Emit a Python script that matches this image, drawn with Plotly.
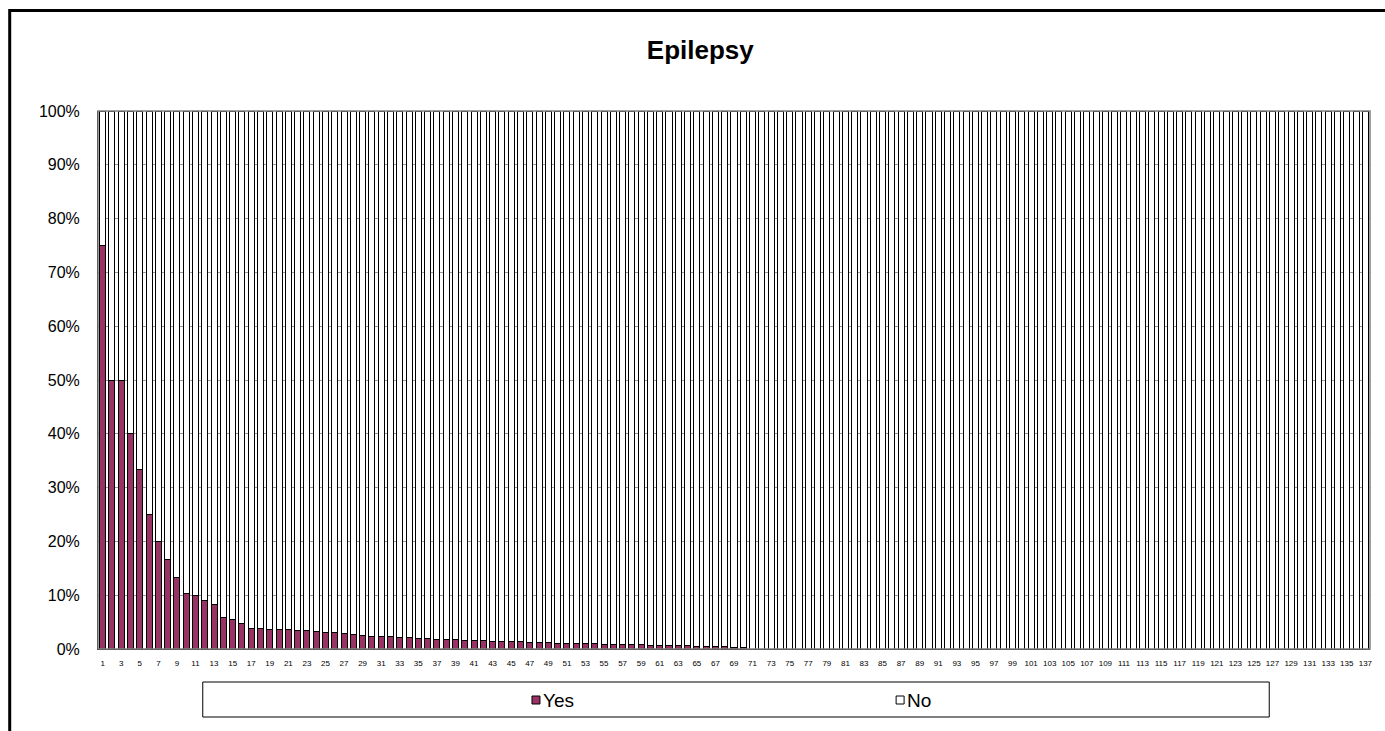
import plotly.graph_objects as go

# Category numbers along the x axis
categories = list(range(1, 138))

# Share of respondents answering "Yes" (%)
yes_pct = [
    75.0, 50.0, 50.0, 40.0, 33.3, 25.0, 20.0, 16.7, 13.3, 10.3,
    10.0, 9.1, 8.3, 5.9, 5.4, 4.8, 3.9, 3.8, 3.7, 3.7,
    3.6, 3.5, 3.4, 3.2, 3.1, 3.1, 2.9, 2.7, 2.6, 2.4,
    2.3, 2.3, 2.2, 2.1, 2.0, 1.9, 1.7, 1.7, 1.7, 1.6,
    1.6, 1.6, 1.4, 1.4, 1.4, 1.4, 1.3, 1.3, 1.2, 1.1,
    1.0, 1.0, 1.0, 1.0, 0.9, 0.9, 0.9, 0.8, 0.8, 0.7,
    0.7, 0.7, 0.6, 0.6, 0.5, 0.5, 0.4, 0.4, 0.3, 0.2,
    0, 0, 0, 0, 0, 0, 0, 0, 0, 0,
    0, 0, 0, 0, 0, 0, 0, 0, 0, 0,
    0, 0, 0, 0, 0, 0, 0, 0, 0, 0,
    0, 0, 0, 0, 0, 0, 0, 0, 0, 0,
    0, 0, 0, 0, 0, 0, 0, 0, 0, 0,
    0, 0, 0, 0, 0, 0, 0, 0, 0, 0,
    0, 0, 0, 0, 0, 0, 0,
]

# Share of respondents answering "No" (%)
no_pct = [
    25.0, 50.0, 50.0, 60.0, 66.7, 75.0, 80.0, 83.3, 86.7, 89.7,
    90.0, 90.9, 91.7, 94.1, 94.6, 95.2, 96.1, 96.2, 96.3, 96.3,
    96.4, 96.5, 96.6, 96.8, 96.9, 96.9, 97.1, 97.3, 97.4, 97.6,
    97.7, 97.7, 97.8, 97.9, 98.0, 98.1, 98.3, 98.3, 98.3, 98.4,
    98.4, 98.4, 98.6, 98.6, 98.6, 98.6, 98.7, 98.7, 98.8, 98.9,
    99.0, 99.0, 99.0, 99.0, 99.1, 99.1, 99.1, 99.2, 99.2, 99.3,
    99.3, 99.3, 99.4, 99.4, 99.5, 99.5, 99.6, 99.6, 99.7, 99.8,
    100, 100, 100, 100, 100, 100, 100, 100, 100, 100,
    100, 100, 100, 100, 100, 100, 100, 100, 100, 100,
    100, 100, 100, 100, 100, 100, 100, 100, 100, 100,
    100, 100, 100, 100, 100, 100, 100, 100, 100, 100,
    100, 100, 100, 100, 100, 100, 100, 100, 100, 100,
    100, 100, 100, 100, 100, 100, 100, 100, 100, 100,
    100, 100, 100, 100, 100, 100, 100,
]

y_ticks = [0, 10, 20, 30, 40, 50, 60, 70, 80, 90, 100]
y_tick_labels = ["0%", "10%", "20%", "30%", "40%", "50%",
                 "60%", "70%", "80%", "90%", "100%"]

YES_COLOR = "#993366"
NO_COLOR = "#FFFFFF"
FONT = "Liberation Sans, Arial, sans-serif"

W, H = 1385, 731
L, R, T, B = 98, 12, 111, 82
PW, PH = W - L - R, H - T - B


def px(x):
    return (x - L) / PW


def py(y):
    return (H - B - y) / PH


fig = go.Figure()
fig.add_trace(go.Bar(
    x=categories, y=yes_pct, name="Yes",
    marker=dict(color=YES_COLOR, line=dict(color="#000000", width=1)),
))
fig.add_trace(go.Bar(
    x=categories, y=no_pct, name="No",
    marker=dict(color=NO_COLOR, line=dict(color="#000000", width=1)),
))

shapes = [
    # plot-area frame
    dict(type="rect", xref="paper", yref="paper", x0=0, x1=1, y0=0, y1=1,
         line=dict(color="#808080", width=1.5), layer="above"),
    # outer chart border
    dict(type="rect", xref="paper", yref="paper",
         x0=px(9.5), x1=px(1400), y0=py(745), y1=py(10.5),
         line=dict(color="#000000", width=3)),
    # legend box
    dict(type="rect", xref="paper", yref="paper",
         x0=px(203), x1=px(1272), y0=py(717), y1=py(682),
         line=dict(color="#000000", width=1)),
    # legend swatches
    dict(type="rect", xref="paper", yref="paper",
         x0=px(533), x1=px(541), y0=py(704), y1=py(696),
         fillcolor=YES_COLOR, line=dict(color="#000000", width=1)),
    dict(type="rect", xref="paper", yref="paper",
         x0=px(898), x1=px(906), y0=py(704), y1=py(696),
         fillcolor=NO_COLOR, line=dict(color="#000000", width=1)),
]

annotations = [
    dict(text="Yes", xref="paper", yref="paper", x=px(542), y=py(700),
         xanchor="left", yanchor="middle", showarrow=False,
         font=dict(family=FONT, size=19, color="#000000")),
    dict(text="No", xref="paper", yref="paper", x=px(907), y=py(700),
         xanchor="left", yanchor="middle", showarrow=False,
         font=dict(family=FONT, size=19, color="#000000")),
]

fig.update_layout(
    width=W, height=H,
    margin=dict(l=L, r=R, t=T, b=B),
    paper_bgcolor="#FFFFFF", plot_bgcolor="#FFFFFF",
    barmode="stack", bargap=0.35,
    showlegend=False,
    title=dict(text="<b>Epilepsy</b>", xref="paper", x=px(701.7),
               xanchor="center", yref="container", y=1 - 50 / H,
               yanchor="middle",
               font=dict(family=FONT, size=26, color="#000000")),
    font=dict(family=FONT, color="#000000"),
    shapes=shapes,
    annotations=annotations,
)

fig.update_xaxes(
    range=[0.5, 137.5], tickmode="linear", tick0=1, dtick=2,
    showgrid=False, zeroline=False,
    showline=True, linecolor="#000000", linewidth=1,
    ticks="", tickfont=dict(family=FONT, size=8, color="#000000"),
    ticklabelstandoff=6,
)
fig.update_yaxes(
    range=[0, 100], tickmode="array", tickvals=y_ticks, ticktext=y_tick_labels,
    showgrid=True, gridcolor="#999999", gridwidth=1,
    zeroline=False,
    showline=True, linecolor="#000000", linewidth=1,
    ticks="", tickfont=dict(family=FONT, size=16, color="#000000"),
    ticklabelstandoff=14,
)

fig.write_html("out.html")
